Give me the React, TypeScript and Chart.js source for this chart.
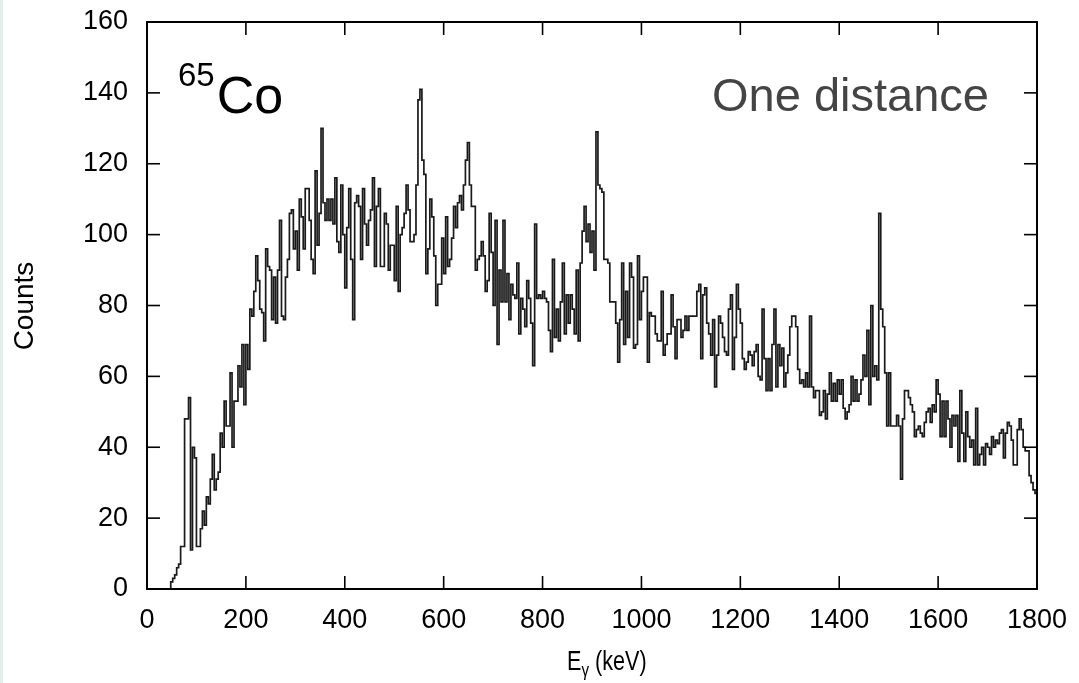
import React, { useEffect, useRef } from "react";
import { Chart, registerables } from "chart.js";

Chart.register(...registerables);

// Histogram: 4 keV bins, counts
const BIN_WIDTH_KEV = 4;
const FIRST_BIN_KEV = 48; // bins below this are empty
const X_MAX = 1800;

// 48 – 468 keV
const countsLow = [
  2, 3, 4, 6, 7, 12, 12, 48, 48, 54,
  11, 40, 37, 12, 12, 17, 22, 18, 26, 24,
  31, 38, 28, 31, 33, 44, 40, 53, 46, 46,
  61, 40, 53, 53, 63, 57, 69, 52, 69, 62,
  79, 77, 84, 94, 87, 79, 78, 70, 96, 91,
  90, 76, 88, 75, 90, 104, 77, 76, 88, 93,
  106, 107, 96, 101, 90, 110, 105, 96, 113, 113,
  104, 93, 89, 118, 97, 106, 130, 109, 104, 110,
  104, 110, 103, 116, 98, 95, 114, 100, 85, 102,
  113, 93, 76, 109, 111, 108, 93, 113, 103, 97,
  104, 107, 116, 91, 108, 113,
];

// 472 – 912 keV
const countsMid = [
  91, 91, 106, 103, 90, 97, 97, 87, 108, 84,
  100, 102, 106, 114, 107, 98, 98, 100, 114, 138,
  141, 121, 117, 89, 96, 110, 105, 94, 80, 86,
  86, 99, 89, 105, 91, 93, 99, 108, 102, 109,
  111, 107, 114, 121, 126, 114, 108, 108, 90, 93,
  94, 98, 94, 84, 87, 106, 95, 80, 104, 69,
  90, 81, 104, 81, 89, 76, 86, 83, 82, 92,
  72, 82, 79, 74, 87, 82, 75, 63, 103, 82,
  83, 82, 84, 82, 81, 73, 67, 93, 71, 79,
  70, 81, 92, 72, 83, 75, 83, 79, 72, 90,
  70, 92, 101, 108, 98, 103, 95, 101, 90, 129,
  114,
];

// 916 – 1356 keV
const countsHigh = [
  113, 112, 93, 93, 92, 81, 81, 81, 75, 64,
  76, 92, 69, 84, 71, 92, 88, 68, 69, 94,
  76, 84, 88, 88, 64, 78, 77, 77, 72, 70,
  70, 84, 66, 69, 72, 72, 83, 74, 65, 76,
  76, 71, 73, 77, 73, 77, 77, 77, 77, 84,
  86, 65, 83, 85, 75, 72, 66, 76, 57, 66,
  77, 75, 71, 67, 66, 79, 83, 62, 71, 86,
  79, 75, 65, 62, 64, 67, 66, 63, 67, 69,
  60, 59, 79, 65, 56, 65, 56, 69, 79, 57,
  69, 63, 68, 57, 61, 66, 74, 77, 77, 74,
  62, 58, 59, 57, 61, 57, 77, 57, 54, 56, 56,
];

// 1360 – 1796 keV
const countsTail = [
  49, 50, 56, 48, 55, 61, 53, 58, 53, 59, 55,
  59, 51, 48, 50, 52, 60, 53, 59, 53, 55,
  59, 66, 60, 73, 52, 80, 60, 63, 59, 106,
  79, 74, 61, 46, 61, 46, 46, 46, 49, 46,
  31, 48, 56, 56, 54, 52, 50, 43, 45, 46,
  44, 43, 47, 50, 51, 47, 52, 50, 59, 55,
  43, 53, 43, 53, 48, 40, 49, 46, 49, 36,
  56, 44, 36, 50, 43, 40, 42, 35, 51, 35,
  38, 40, 35, 41, 40, 38, 43, 40, 42, 41,
  44, 45, 37, 44, 47, 46, 42, 35, 35, 45,
  48, 45, 40, 39, 39, 32, 30, 28, 27,
];

const xTicks = [0, 200, 400, 600, 800, 1000, 1200, 1400, 1600, 1800];
const yTicks = [0, 20, 40, 60, 80, 100, 120, 140, 160];

const xTitleMain = "E";
const xTitleSub = "γ";
const xTitleUnit = " (keV)";
const yTitle = "Counts";
const isotopeMass = "65";
const isotopeSymbol = "Co";
const panelLabel = "One distance";

function buildPoints() {
  const counts = [...countsLow, ...countsMid, ...countsHigh, ...countsTail];
  const pts: { x: number; y: number }[] = [];
  for (let e = 0; e < FIRST_BIN_KEV; e += BIN_WIDTH_KEV) pts.push({ x: e, y: 0 });
  counts.forEach((c, i) => pts.push({ x: FIRST_BIN_KEV + i * BIN_WIDTH_KEV, y: c }));
  pts.push({ x: X_MAX, y: counts[counts.length - 1] });
  return pts;
}

const FONT = "Liberation Sans";

const framePlugin = {
  id: "framePlugin",
  afterDraw(chart: any) {
    const { ctx, chartArea: a, scales } = chart;
    const xs = scales.x;
    const ys = scales.y;
    ctx.save();
    // faint left page edge
    ctx.fillStyle = "#e6ece9";
    ctx.fillRect(0, 0, 3, chart.height);

    ctx.strokeStyle = "#000";
    ctx.lineWidth = 2;
    ctx.strokeRect(a.left, a.top, a.right - a.left, a.bottom - a.top);
    ctx.lineWidth = 1.6;
    const L = 13;
    const seg = (x1: number, y1: number, x2: number, y2: number) => {
      ctx.beginPath();
      ctx.moveTo(x1, y1);
      ctx.lineTo(x2, y2);
      ctx.stroke();
    };
    yTicks.forEach((v) => {
      const py = ys.getPixelForValue(v);
      seg(a.left, py, a.left + L, py);
      seg(a.right, py, a.right - L, py);
    });
    xTicks.forEach((v) => {
      const px = xs.getPixelForValue(v);
      seg(px, a.bottom, px, a.bottom - L);
      seg(px, a.top, px, a.top + L);
    });

    // y title
    ctx.fillStyle = "#000";
    ctx.save();
    ctx.translate(25, 306);
    ctx.rotate(-Math.PI / 2);
    ctx.font = `28px '${FONT}'`;
    ctx.textAlign = "center";
    ctx.textBaseline = "middle";
    ctx.fillText(yTitle, 0, 0);
    ctx.restore();

    // x title: E_gamma (keV), narrow setting as in the reference
    ctx.save();
    ctx.translate(567, 670);
    ctx.scale(0.8, 1);
    ctx.textBaseline = "alphabetic";
    ctx.textAlign = "left";
    let tx = 0;
    ctx.font = `27px '${FONT}'`;
    ctx.fillText(xTitleMain, tx, 0);
    tx += ctx.measureText(xTitleMain).width;
    ctx.font = `19px '${FONT}'`;
    ctx.fillText(xTitleSub, tx, 6);
    tx += ctx.measureText(xTitleSub).width;
    ctx.font = `27px '${FONT}'`;
    ctx.fillText(xTitleUnit, tx, 0);
    ctx.restore();

    // isotope label
    ctx.textAlign = "left";
    ctx.textBaseline = "alphabetic";
    ctx.font = `33px '${FONT}'`;
    ctx.fillText(isotopeMass, 178, 86);
    const wM = ctx.measureText(isotopeMass).width;
    ctx.font = `52px '${FONT}'`;
    ctx.fillText(isotopeSymbol, 178 + wM + 2, 113);

    // panel label
    ctx.fillStyle = "#444444";
    ctx.font = `47px '${FONT}'`;
    ctx.textAlign = "right";
    ctx.fillText(panelLabel, 989, 111);
    ctx.restore();
  },
};

export default function App() {
  const canvasRef = useRef<HTMLCanvasElement | null>(null);

  useEffect(() => {
    if (!canvasRef.current) return;
    const chart = new Chart(canvasRef.current, {
      type: "line",
      data: {
        datasets: [
          {
            data: buildPoints(),
            stepped: true,
            borderColor: "#1a1a1a",
            borderWidth: 1.7,
            pointRadius: 0,
            fill: false,
          },
        ],
      },
      options: {
        responsive: false,
        animation: false,
        layout: { padding: { left: 0, right: 42, top: 22, bottom: 0 } },
        plugins: { legend: { display: false }, tooltip: { enabled: false } },
        scales: {
          x: {
            type: "linear",
            min: 0,
            max: X_MAX,
            afterBuildTicks: (s: any) => {
              s.ticks = xTicks.map((v) => ({ value: v }));
            },
            afterFit: (s: any) => {
              s.height = 94;
              s.paddingLeft = 0;
              s.paddingRight = 0;
            },
            grid: { display: false, drawTicks: false },
            border: { display: false },
            ticks: {
              padding: 15,
              color: "#000",
              maxRotation: 0,
              autoSkip: false,
              callback: (v: any) => String(v),
              font: { family: FONT, size: 27 },
            },
          },
          y: {
            type: "linear",
            min: 0,
            max: 160,
            afterBuildTicks: (s: any) => {
              s.ticks = yTicks.map((v) => ({ value: v }));
            },
            afterFit: (s: any) => {
              s.width = 147;
              s.paddingTop = 0;
              s.paddingBottom = 0;
            },
            grid: { display: false, drawTicks: false },
            border: { display: false },
            ticks: {
              padding: 19,
              color: "#000",
              autoSkip: false,
              callback: (v: any) => String(v),
              font: { family: FONT, size: 27 },
            },
          },
        },
      },
      plugins: [framePlugin],
    });
    return () => chart.destroy();
  }, []);

  return (
    <div style={{ position: "fixed", left: 0, top: 0, width: 1079, height: 683, background: "#fff" }}>
      <canvas ref={canvasRef} width={1079} height={683} />
    </div>
  );
}
